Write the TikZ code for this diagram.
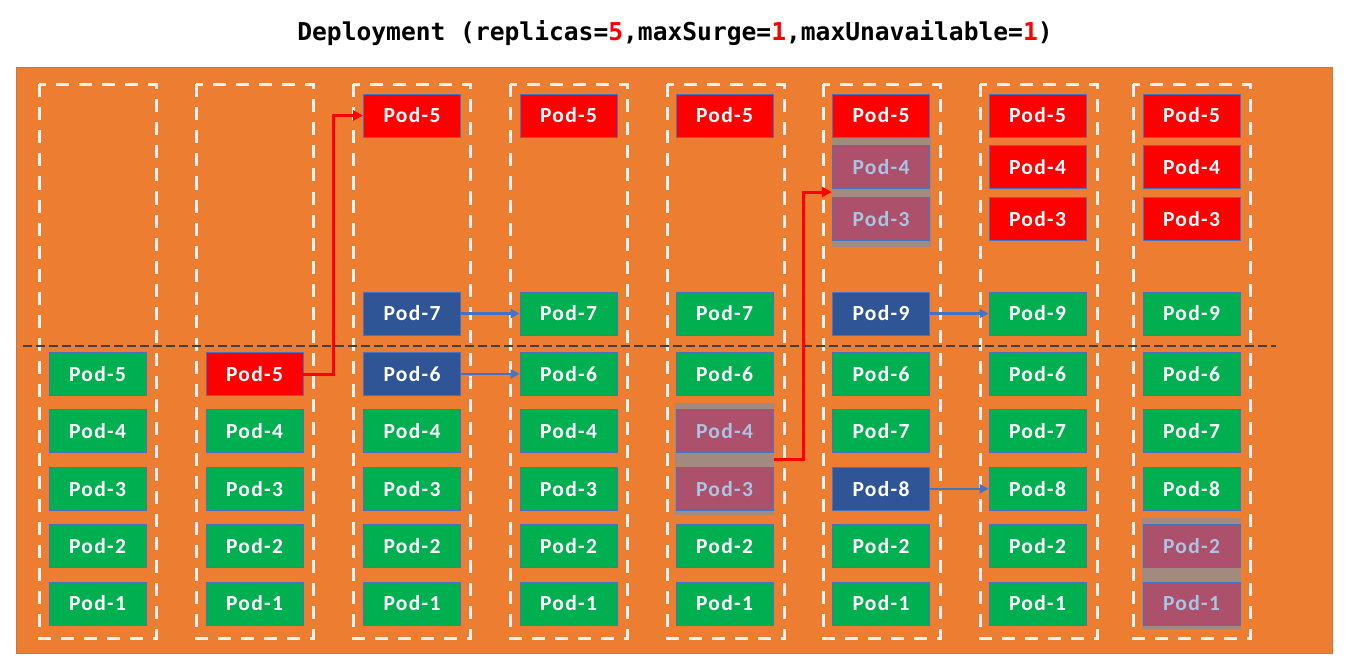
\documentclass[tikz,border=0pt]{standalone}
\usepackage{fontspec}
\setmainfont{Carlito}
\newfontfamily\podfont{Carlito}[LetterSpace=6]
\newfontfamily\titlefont{DejaVu Sans Mono}
\usetikzlibrary{arrows.meta}
\definecolor{orangebg}{HTML}{ED7D31}
\definecolor{orangeedge}{HTML}{C8773F}
\definecolor{podgreen}{HTML}{00B050}
\definecolor{podred}{HTML}{FF0000}
\definecolor{podblue}{HTML}{2F5597}
\definecolor{podedge}{HTML}{4472C4}
\definecolor{podfade}{HTML}{AD506B}
\definecolor{podfadetext}{HTML}{AAC4E4}
\definecolor{bandgray}{HTML}{A38A7F}
\definecolor{boxwhite}{HTML}{F2F2F2}
\definecolor{sepgray}{HTML}{404040}
\definecolor{arrowblue}{HTML}{4472C4}
\tikzset{
  pod/.style={draw=podedge, line width=0.9pt, minimum width=97pt, minimum height=43pt,
    inner sep=0pt, text=white, font=\podfont\bfseries\fontsize{21.5}{25}\selectfont},
  podg/.style={pod, fill=podgreen},
  podr/.style={pod, fill=podred},
  podb/.style={pod, fill=podblue},
  podf/.style={pod, fill=podfade, text=podfadetext},
  band/.style={fill=bandgray, inner sep=0pt, minimum width=99pt},
  colbox/.style={draw=boxwhite, line width=3pt, dash pattern=on 13pt off 10pt},
  sepline/.style={draw=sepgray, line width=1.8pt, dash pattern=on 8.5pt off 4.5pt},
  bluearrow/.style={draw=arrowblue, line width=2.5pt, -{Triangle[length=9pt,width=9pt]}},
  redarrow/.style={draw=podred, line width=3pt, -{Triangle[length=10pt,width=10pt]}}
}
\begin{document}
\begin{tikzpicture}[x=1pt,y=-1pt]
\useasboundingbox (0,0) rectangle (1347,666);
% title
\node (title) at (675,33) {\titlefont\bfseries\fontsize{24.6}{28}\selectfont
  Deployment (replicas=\textcolor{podred}{5},maxSurge=\textcolor{podred}{1},maxUnavailable=\textcolor{podred}{1})};
% background
\draw[fill=orangebg, draw=orangeedge, line width=1pt] (16.5,67.5) rectangle (1332,653.5);
% column boxes
\foreach \x in {39,196,353,510,667,823,980,1133}
  \draw[colbox] (\x,84.5) rectangle ++(117,553.5);
% separator
\draw[sepline] (23,346) -- (1276,346);
% bands behind terminating pods
\node[band, minimum height=112pt] (b5) at (724.5,459) {};
\node[band, minimum height=110pt] (b6) at (881.5,192) {};
\node[band, minimum height=111pt] (b8) at (1191.5,573.5) {};
% column 1
\node[podg] (c1r1) at (97.5,603.5) {Pod-1};
\node[podg] (c1r2) at (97.5,546.2) {Pod-2};
\node[podg] (c1r3) at (97.5,488.8) {Pod-3};
\node[podg] (c1r4) at (97.5,431.3) {Pod-4};
\node[podg] (c1r5) at (97.5,374) {Pod-5};
% column 2
\node[podg] (c2r1) at (254.5,603.5) {Pod-1};
\node[podg] (c2r2) at (254.5,546.2) {Pod-2};
\node[podg] (c2r3) at (254.5,488.8) {Pod-3};
\node[podg] (c2r4) at (254.5,431.3) {Pod-4};
\node[podr] (c2r5) at (254.5,374) {Pod-5};
% column 3
\node[podg] (c3r1) at (412,603.5) {Pod-1};
\node[podg] (c3r2) at (412,546.2) {Pod-2};
\node[podg] (c3r3) at (412,488.8) {Pod-3};
\node[podg] (c3r4) at (412,431.3) {Pod-4};
\node[podb] (c3r5) at (412,374) {Pod-6};
\node[podb] (c3ra) at (412,313.5) {Pod-7};
\node[podr] (c3t5) at (412,115.5) {Pod-5};
% column 4
\node[podg] (c4r1) at (568.5,603.5) {Pod-1};
\node[podg] (c4r2) at (568.5,546.2) {Pod-2};
\node[podg] (c4r3) at (568.5,488.8) {Pod-3};
\node[podg] (c4r4) at (568.5,431.3) {Pod-4};
\node[podg] (c4r5) at (568.5,374) {Pod-6};
\node[podg] (c4ra) at (568.5,313.5) {Pod-7};
\node[podr] (c4t5) at (568.5,115.5) {Pod-5};
% column 5
\node[podg] (c5r1) at (724.5,603.5) {Pod-1};
\node[podg] (c5r2) at (724.5,546.2) {Pod-2};
\node[podf] (c5r3) at (724.5,488.8) {Pod-3};
\node[podf] (c5r4) at (724.5,431.3) {Pod-4};
\node[podg] (c5r5) at (724.5,374) {Pod-6};
\node[podg] (c5ra) at (724.5,313.5) {Pod-7};
\node[podr] (c5t5) at (724.5,115.5) {Pod-5};
% column 6
\node[podg] (c6r1) at (881,603.5) {Pod-1};
\node[podg] (c6r2) at (881,546.2) {Pod-2};
\node[podb] (c6r3) at (881,488.8) {Pod-8};
\node[podg] (c6r4) at (881,431.3) {Pod-7};
\node[podg] (c6r5) at (881,374) {Pod-6};
\node[podb] (c6ra) at (881,313.5) {Pod-9};
\node[podf] (c6t3) at (881,219) {Pod-3};
\node[podf] (c6t4) at (881,167) {Pod-4};
\node[podr] (c6t5) at (881,115.5) {Pod-5};
% column 7
\node[podg] (c7r1) at (1037.5,603.5) {Pod-1};
\node[podg] (c7r2) at (1037.5,546.2) {Pod-2};
\node[podg] (c7r3) at (1037.5,488.8) {Pod-8};
\node[podg] (c7r4) at (1037.5,431.3) {Pod-7};
\node[podg] (c7r5) at (1037.5,374) {Pod-6};
\node[podg] (c7ra) at (1037.5,313.5) {Pod-9};
\node[podr] (c7t3) at (1037.5,219) {Pod-3};
\node[podr] (c7t4) at (1037.5,167) {Pod-4};
\node[podr] (c7t5) at (1037.5,115.5) {Pod-5};
% column 8
\node[podf] (c8r1) at (1191.5,603.5) {Pod-1};
\node[podf] (c8r2) at (1191.5,546.2) {Pod-2};
\node[podg] (c8r3) at (1191.5,488.8) {Pod-8};
\node[podg] (c8r4) at (1191.5,431.3) {Pod-7};
\node[podg] (c8r5) at (1191.5,374) {Pod-6};
\node[podg] (c8ra) at (1191.5,313.5) {Pod-9};
\node[podr] (c8t3) at (1191.5,219) {Pod-3};
\node[podr] (c8t4) at (1191.5,167) {Pod-4};
\node[podr] (c8t5) at (1191.5,115.5) {Pod-5};
% arrows
\draw[redarrow] (c2r5.east) -- ++(30,0) |- (c3t5.west);
\draw[redarrow] (b5.east) -- ++(29,0) |- (b6.west);
\draw[bluearrow] (c3ra.east) -- (c4ra.west);
\draw[bluearrow] (c3r5.east) -- (c4r5.west);
\draw[bluearrow] (c6ra.east) -- (c7ra.west);
\draw[bluearrow] (c6r3.east) -- (c7r3.west);
\end{tikzpicture}
\end{document}
